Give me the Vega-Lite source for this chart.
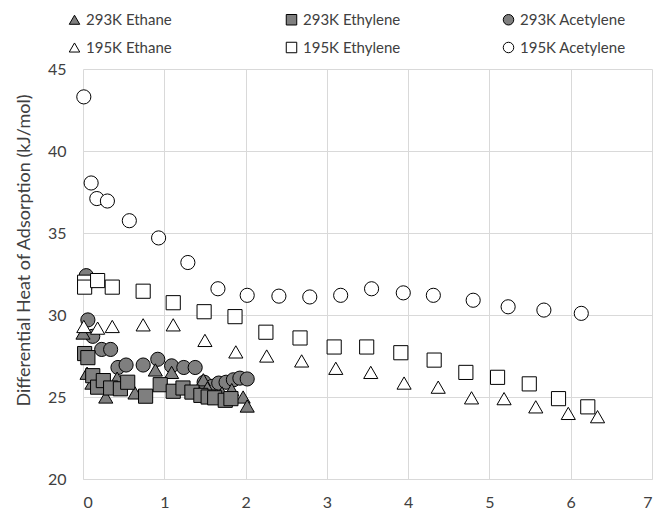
{
"$schema": "https://vega.github.io/schema/vega-lite/v6.json",
"width": 569, "height": 410,
"autosize": {"type": "none"},
"padding": {"left": 83, "top": 69, "right": 8, "bottom": 31},
"background": "white",
"config": {"view": {"stroke": null}, "font": "Lato"},
"data": {"values": [
{"s":"293K Acetylene","x":0.04,"y":32.4},{"s":"293K Acetylene","x":0.06,"y":29.7},{"s":"293K Acetylene","x":0.12,"y":28.7},{"s":"293K Acetylene","x":0.23,"y":27.9},{"s":"293K Acetylene","x":0.34,"y":27.9},{"s":"293K Acetylene","x":0.43,"y":26.8},{"s":"293K Acetylene","x":0.53,"y":26.95},{"s":"293K Acetylene","x":0.74,"y":26.95},{"s":"293K Acetylene","x":0.92,"y":27.3},{"s":"293K Acetylene","x":1.09,"y":26.9},{"s":"293K Acetylene","x":1.24,"y":26.8},{"s":"293K Acetylene","x":1.38,"y":26.8},{"s":"293K Acetylene","x":1.49,"y":25.9},{"s":"293K Acetylene","x":1.59,"y":25.65},{"s":"293K Acetylene","x":1.67,"y":25.85},{"s":"293K Acetylene","x":1.76,"y":25.9},{"s":"293K Acetylene","x":1.85,"y":26.05},{"s":"293K Acetylene","x":1.93,"y":26.15},{"s":"293K Acetylene","x":2.02,"y":26.1},
{"s":"293K Ethane","x":0.0,"y":28.9},{"s":"293K Ethane","x":0.05,"y":26.45},{"s":"293K Ethane","x":0.11,"y":25.85},{"s":"293K Ethane","x":0.28,"y":25.0},{"s":"293K Ethane","x":0.42,"y":26.15},{"s":"293K Ethane","x":0.64,"y":25.25},{"s":"293K Ethane","x":0.89,"y":26.65},{"s":"293K Ethane","x":1.09,"y":26.5},{"s":"293K Ethane","x":1.48,"y":26.05},{"s":"293K Ethane","x":1.53,"y":25.55},{"s":"293K Ethane","x":1.71,"y":25.25},{"s":"293K Ethane","x":1.83,"y":25.45},{"s":"293K Ethane","x":1.97,"y":25.0},{"s":"293K Ethane","x":2.02,"y":24.45},
{"s":"293K Ethylene","x":0.02,"y":27.65},{"s":"293K Ethylene","x":0.06,"y":27.4},{"s":"293K Ethylene","x":0.12,"y":26.3},{"s":"293K Ethylene","x":0.18,"y":25.6},{"s":"293K Ethylene","x":0.25,"y":26.0},{"s":"293K Ethylene","x":0.34,"y":25.55},{"s":"293K Ethylene","x":0.46,"y":25.5},{"s":"293K Ethylene","x":0.55,"y":25.9},{"s":"293K Ethylene","x":0.77,"y":25.05},{"s":"293K Ethylene","x":0.95,"y":25.75},{"s":"293K Ethylene","x":1.11,"y":25.35},{"s":"293K Ethylene","x":1.23,"y":25.55},{"s":"293K Ethylene","x":1.34,"y":25.3},{"s":"293K Ethylene","x":1.45,"y":25.1},{"s":"293K Ethylene","x":1.54,"y":25.0},{"s":"293K Ethylene","x":1.62,"y":24.95},{"s":"293K Ethylene","x":1.75,"y":24.8},{"s":"293K Ethylene","x":1.82,"y":24.9},
{"s":"195K Ethane","x":0.01,"y":29.3},{"s":"195K Ethane","x":0.18,"y":29.2},{"s":"195K Ethane","x":0.36,"y":29.3},{"s":"195K Ethane","x":0.74,"y":29.4},{"s":"195K Ethane","x":1.11,"y":29.4},{"s":"195K Ethane","x":1.5,"y":28.45},{"s":"195K Ethane","x":1.88,"y":27.75},{"s":"195K Ethane","x":2.26,"y":27.5},{"s":"195K Ethane","x":2.69,"y":27.2},{"s":"195K Ethane","x":3.11,"y":26.75},{"s":"195K Ethane","x":3.54,"y":26.5},{"s":"195K Ethane","x":3.95,"y":25.85},{"s":"195K Ethane","x":4.37,"y":25.6},{"s":"195K Ethane","x":4.78,"y":24.95},{"s":"195K Ethane","x":5.18,"y":24.9},{"s":"195K Ethane","x":5.57,"y":24.4},{"s":"195K Ethane","x":5.97,"y":24.0},{"s":"195K Ethane","x":6.33,"y":23.8},
{"s":"195K Ethylene","x":0.02,"y":32.0},{"s":"195K Ethylene","x":0.02,"y":31.7},{"s":"195K Ethylene","x":0.18,"y":32.1},{"s":"195K Ethylene","x":0.36,"y":31.7},{"s":"195K Ethylene","x":0.74,"y":31.45},{"s":"195K Ethylene","x":1.11,"y":30.75},{"s":"195K Ethylene","x":1.49,"y":30.2},{"s":"195K Ethylene","x":1.87,"y":29.9},{"s":"195K Ethylene","x":2.25,"y":28.95},{"s":"195K Ethylene","x":2.67,"y":28.6},{"s":"195K Ethylene","x":3.09,"y":28.05},{"s":"195K Ethylene","x":3.49,"y":28.05},{"s":"195K Ethylene","x":3.91,"y":27.7},{"s":"195K Ethylene","x":4.32,"y":27.25},{"s":"195K Ethylene","x":4.71,"y":26.5},{"s":"195K Ethylene","x":5.1,"y":26.2},{"s":"195K Ethylene","x":5.49,"y":25.8},{"s":"195K Ethylene","x":5.85,"y":24.9},{"s":"195K Ethylene","x":6.21,"y":24.4},
{"s":"195K Acetylene","x":0.01,"y":43.3},{"s":"195K Acetylene","x":0.1,"y":38.05},{"s":"195K Acetylene","x":0.17,"y":37.1},{"s":"195K Acetylene","x":0.3,"y":36.95},{"s":"195K Acetylene","x":0.57,"y":35.75},{"s":"195K Acetylene","x":0.93,"y":34.7},{"s":"195K Acetylene","x":1.29,"y":33.2},{"s":"195K Acetylene","x":1.66,"y":31.6},{"s":"195K Acetylene","x":2.02,"y":31.2},{"s":"195K Acetylene","x":2.41,"y":31.15},{"s":"195K Acetylene","x":2.79,"y":31.1},{"s":"195K Acetylene","x":3.17,"y":31.2},{"s":"195K Acetylene","x":3.55,"y":31.6},{"s":"195K Acetylene","x":3.94,"y":31.35},{"s":"195K Acetylene","x":4.31,"y":31.2},{"s":"195K Acetylene","x":4.8,"y":30.9},{"s":"195K Acetylene","x":5.23,"y":30.5},{"s":"195K Acetylene","x":5.67,"y":30.3},{"s":"195K Acetylene","x":6.13,"y":30.1}
]},
"mark": {"type": "point", "filled": true, "stroke": "black", "strokeWidth": 1, "opacity": 1, "size": 200},
"encoding": {
  "x": {"field": "x", "type": "quantitative",
    "scale": {"domain": [0, 7], "nice": false, "zero": false},
    "axis": {"title": null, "values": [0,1,2,3,4,5,6,7], "format": "d", "grid": true, "gridColor": "#d9d9d9", "gridWidth": 1,
      "domainColor": "#d9d9d9", "ticks": false, "tickSize": 0, "labelPadding": 15, "labelFontSize": 16, "labelColor": "#404040", "labelFont": "Lato"}},
  "y": {"field": "y", "type": "quantitative",
    "scale": {"domain": [20, 45], "nice": false, "zero": false},
    "axis": {"title": "Differential Heat of Adsorption (kJ/mol)", "values": [20,25,30,35,40,45], "format": "d", "grid": true, "gridColor": "#d9d9d9", "gridWidth": 1,
      "domain": false, "ticks": false, "tickSize": 0, "labelPadding": 17, "labelFontSize": 16, "labelColor": "#404040", "labelFont": "Lato",
      "titleFont": "Lato", "titleFontSize": 18, "titleFontWeight": "normal", "titleColor": "#404040", "titleY": 181, "titleX": -50}},
  "shape": {"field": "s", "type": "nominal",
    "scale": {"domain": ["293K Ethane","195K Ethane","293K Ethylene","195K Ethylene","293K Acetylene","195K Acetylene"],
              "range": ["triangle-up","triangle-up","square","square","circle","circle"]},
    "legend": {"title": null, "orient": "none", "legendX": -16, "legendY": -57, "columns": 3, "gridAlign": "all", "columnPadding": 92, "rowPadding": 12,
      "symbolSize": 110, "symbolStrokeColor": "black", "symbolStrokeWidth": 1, "labelFontSize": 15, "labelFont": "Lato", "labelColor": "#404040", "labelOffset": 4, "symbolOpacity": 1,
      "encode": {"symbols": {"update": {"stroke": {"value": "black"}, "strokeWidth": {"value": 1}}}}}},
  "fill": {"field": "s", "type": "nominal",
    "scale": {"domain": ["293K Ethane","195K Ethane","293K Ethylene","195K Ethylene","293K Acetylene","195K Acetylene"],
              "range": ["#7f7f7f","#ffffff","#7f7f7f","#ffffff","#7f7f7f","#ffffff"]},
    "legend": {"title": null, "orient": "none", "legendX": -16, "legendY": -57, "columns": 3, "gridAlign": "all", "columnPadding": 92, "rowPadding": 12,
      "symbolSize": 110, "symbolStrokeColor": "black", "symbolStrokeWidth": 1, "labelFontSize": 15, "labelFont": "Lato", "labelColor": "#404040", "labelOffset": 4, "symbolOpacity": 1,
      "encode": {"symbols": {"update": {"stroke": {"value": "black"}, "strokeWidth": {"value": 1}}}}}}
}
}
